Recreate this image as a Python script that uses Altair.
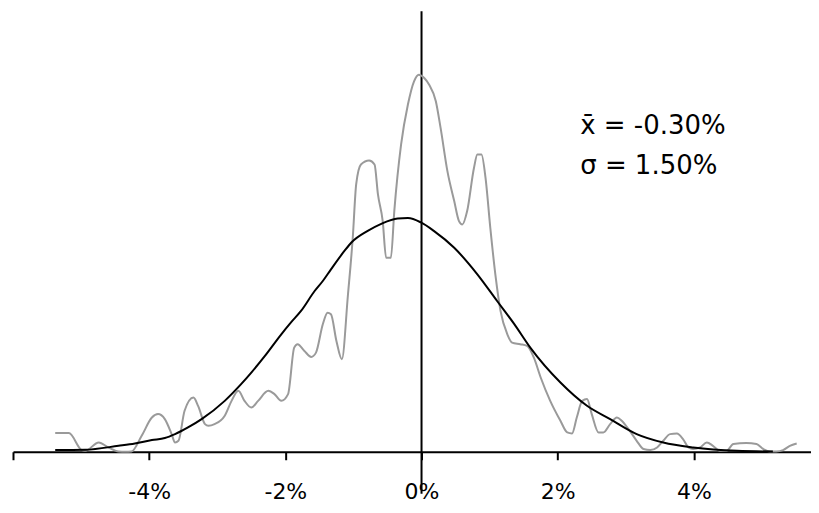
import altair as alt
import pandas as pd

# Empirical (smoothed) return distribution, grey line: return in %, density
emp_x = [-5.38, -5.18, -4.99, -4.94, -4.74, -4.60, -4.45, -4.35, -4.26, -4.11,
         -3.96, -3.87, -3.77, -3.67, -3.62, -3.57, -3.48, -3.35, -3.28, -3.18,
         -3.13, -3.04, -2.89, -2.79, -2.69, -2.60, -2.50, -2.40, -2.25, -2.16,
         -2.06, -1.96, -1.87, -1.82, -1.72, -1.62, -1.55, -1.45, -1.38, -1.33,
         -1.25, -1.17, -1.08, -1.01, -0.96, -0.89, -0.77, -0.69, -0.64, -0.57,
         -0.52, -0.45, -0.40, -0.30, -0.20, -0.11, -0.04, 0.04, 0.11, 0.21,
         0.28, 0.38, 0.48, 0.55, 0.60, 0.67, 0.77, 0.82, 0.88, 0.94,
         1.01, 1.09, 1.16, 1.26, 1.33, 1.45, 1.55, 1.65, 1.75, 1.89,
         2.04, 2.14, 2.21, 2.28, 2.36, 2.43, 2.50, 2.60, 2.67, 2.77,
         2.87, 2.94, 3.04, 3.16, 3.26, 3.36, 3.46, 3.55, 3.65, 3.75,
         3.84, 3.92, 3.99, 4.09, 4.19, 4.28, 4.38, 4.48, 4.58, 4.77,
         4.92, 5.02, 5.12, 5.21, 5.31, 5.41, 5.51]
emp_y = [0.0213, 0.0213, 0.0019, 0.0011, 0.0106, 0.0049, 0.0003, 0.0000, 0.0003, 0.0182,
         0.0390, 0.0429, 0.0372, 0.0201, 0.0106, 0.0125, 0.0467, 0.0618, 0.0520, 0.0315,
         0.0296, 0.0315, 0.0410, 0.0580, 0.0694, 0.0580, 0.0504, 0.0580, 0.0694, 0.0657,
         0.0580, 0.0657, 0.1187, 0.1226, 0.1149, 0.1081, 0.1130, 0.1453, 0.1585, 0.1567,
         0.1263, 0.1055, 0.1795, 0.2439, 0.3047, 0.3274, 0.3320, 0.3274, 0.2933, 0.2629,
         0.2211, 0.2211, 0.2743, 0.3502, 0.3957, 0.4222, 0.4298, 0.4260, 0.4185, 0.3995,
         0.3691, 0.3198, 0.2857, 0.2629, 0.2591, 0.2743, 0.3235, 0.3388, 0.3388, 0.3122,
         0.2553, 0.1984, 0.1605, 0.1339, 0.1244, 0.1226, 0.1206, 0.1073, 0.0846, 0.0580,
         0.0353, 0.0220, 0.0208, 0.0390, 0.0580, 0.0600, 0.0429, 0.0220, 0.0220, 0.0315,
         0.0390, 0.0353, 0.0258, 0.0125, 0.0031, 0.0019, 0.0049, 0.0125, 0.0201, 0.0208,
         0.0145, 0.0049, 0.0031, 0.0049, 0.0106, 0.0068, 0.0011, 0.0011, 0.0088, 0.0099,
         0.0088, 0.0031, 0.0003, 0.0003, 0.0019, 0.0068, 0.0094]

# Fitted normal curve, black line
fit_x = [-5.38, -4.94, -4.45, -4.21, -3.96, -3.77, -3.62, -3.43, -3.23, -2.89,
         -2.65, -2.50, -2.30, -2.06, -1.92, -1.77, -1.57, -1.45, -1.33, -1.13,
         -1.03, -0.79, -0.60, -0.35, -0.20, -0.01, 0.18, 0.48, 0.82, 1.11,
         1.36, 1.60, 2.04, 2.43, 2.77, 3.16, 3.55, 3.99, 4.63, 5.16]
fit_y = [0.0019, 0.0023, 0.0068, 0.0094, 0.0133, 0.0156, 0.0201, 0.0277, 0.0372, 0.0580,
         0.0770, 0.0902, 0.1092, 0.1339, 0.1472, 0.1605, 0.1832, 0.1946, 0.2079, 0.2291,
         0.2385, 0.2518, 0.2595, 0.2659, 0.2663, 0.2614, 0.2518, 0.2325, 0.2022, 0.1718,
         0.1457, 0.1184, 0.0789, 0.0524, 0.0372, 0.0201, 0.0105, 0.0049, 0.0011, 0.0003]

tick_values = [-6, -4, -2, 0, 2, 4]
stat_lines = ["x\u0304 = -0.30%", "\u03c3 = 1.50%"]

x_scale = alt.Scale(domain=[-6, 5.72], nice=False, zero=False)
y_scale = alt.Scale(domain=[0, 0.502], nice=False, zero=False)

x_axis = alt.Axis(
    values=tick_values,
    labelExpr="datum.value == -6 ? '' : datum.value + '%'",
    domainColor="black", domainWidth=2,
    tickColor="black", tickWidth=2, tickSize=8,
    labelFont="DejaVu Sans", labelFontSize=22, labelColor="black",
    labelPadding=22, grid=False, title=None, labelFlush=False,
)

emp_df = pd.DataFrame({"r": emp_x, "d": emp_y})
fit_df = pd.DataFrame({"r": fit_x, "d": fit_y})

X = alt.X("r:Q", scale=x_scale, axis=x_axis)

emp_line = alt.Chart(emp_df).mark_line(
    color="#9a9a9a", strokeWidth=2, interpolate="monotone"
).encode(
    x=X,
    y=alt.Y("d:Q", scale=y_scale, axis=None),
)

fit_line = alt.Chart(fit_df).mark_line(
    color="black", strokeWidth=2, interpolate="monotone"
).encode(
    x=X,
    y=alt.Y("d:Q", scale=y_scale, axis=None),
)

vaxis = alt.Chart(pd.DataFrame({"r": [0], "top": [0.502], "bot": [-0.048]})).mark_rule(
    color="black", strokeWidth=2
).encode(
    x=X,
    y=alt.Y("top:Q", scale=y_scale, axis=None),
    y2="bot:Q",
)

txt1 = alt.Chart(pd.DataFrame({"t": [stat_lines[0]]})).mark_text(
    align="left", baseline="middle", font="DejaVu Sans", fontSize=26, color="black"
).encode(x=alt.datum(2.33), y=alt.datum(0.371), text="t:N")

txt2 = alt.Chart(pd.DataFrame({"t": [stat_lines[1]]})).mark_text(
    align="left", baseline="middle", font="DejaVu Sans", fontSize=26, color="black"
).encode(x=alt.datum(2.33), y=alt.datum(0.3255), text="t:N")

chart = alt.layer(vaxis, emp_line, fit_line, txt1, txt2).properties(
    width=799, height=441,
    padding={"left": 4, "top": 2, "right": 0, "bottom": 0},
    background="white",
).configure_view(stroke=None)

chart.save("out.html", embed_options={"renderer": "svg", "actions": False})
